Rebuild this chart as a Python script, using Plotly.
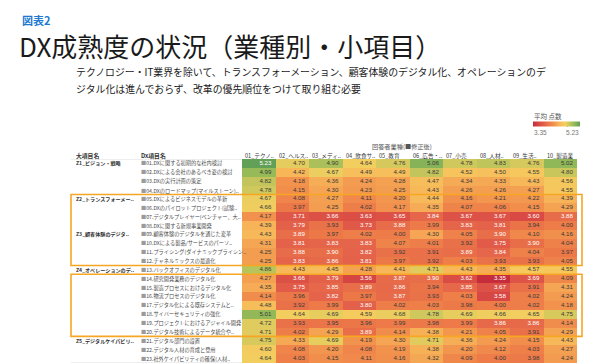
import plotly.graph_objects as go

# ---------------- data ----------------
columns = ["01_テクノ..", "02_ヘルス..", "03_メディ..", "04_飲食サ..", "05_教育",
           "06_広告・..", "07_小売", "08_人材..", "09_生活..", "10_製造業"]

items = [
    "01.DXに関する初期的な社内検討",
    "02.DXによる会社のあるべき姿の検討",
    "03.DXの実行計画の策定",
    "04.DXのロードマップ(マイルストーン)..",
    "05.DXによるビジネスモデルの革新",
    "06.DXのパイロットプロジェクト(試験..",
    "07.デジタルプレイヤー(ベンチャー、大..",
    "08.DXに関する新規事業開発",
    "09.顧客体験のデジタルを通じた変革",
    "10.DXによる製品/サービスのパーソ..",
    "11.プライシング(ダイナミックプライシン..",
    "12.チャネルミックスの最適化",
    "13.バックオフィスのデジタル化",
    "14.研究開発業務のデジタル化",
    "15.製造プロセスにおけるデジタル化",
    "16.物流プロセスのデジタル化",
    "17.デジタル化による既存システムと..",
    "18.サイバーセキュリティの強化",
    "19.プロジェクトにおけるアジャイル開発",
    "20.デジタル技術によるデータ統合や..",
    "21.デジタル部門の設置",
    "22.デジタル人材の育成と登用",
    "23.社外ケイパビリティの確保(人材..",
]

groups = ["Z1_ビジョン・戦略", "Z2_トランスフォーメー..", "Z3_顧客体験のデジタ..",
          "Z4_オペレーションのデ..", "Z5_デジタルケイパビリ.."]
group_first_row = [0, 4, 8, 12, 20]

values = [
    [5.23, 4.70, 4.90, 4.64, 4.76, 5.06, 4.78, 4.83, 4.76, 5.02],
    [4.99, 4.42, 4.67, 4.49, 4.49, 4.82, 4.52, 4.50, 4.55, 4.80],
    [4.82, 4.18, 4.36, 4.24, 4.28, 4.47, 4.34, 4.33, 4.43, 4.56],
    [4.78, 4.15, 4.30, 4.23, 4.25, 4.43, 4.26, 4.26, 4.27, 4.55],
    [4.67, 4.08, 4.27, 4.11, 4.20, 4.44, 4.16, 4.21, 4.22, 4.39],
    [4.66, 3.97, 4.25, 4.02, 4.17, 4.35, 4.07, 4.06, 4.15, 4.29],
    [4.17, 3.71, 3.66, 3.63, 3.65, 3.84, 3.67, 3.67, 3.60, 3.88],
    [4.39, 3.79, 3.93, 3.73, 3.88, 3.99, 3.83, 3.81, 3.94, 4.00],
    [4.43, 3.89, 3.97, 4.02, 4.00, 4.30, 4.05, 3.90, 4.10, 4.16],
    [4.31, 3.81, 3.83, 3.83, 4.07, 4.01, 3.92, 3.75, 3.90, 4.04],
    [4.25, 3.88, 3.90, 3.82, 3.92, 3.91, 3.89, 3.84, 4.04, 3.97],
    [4.25, 3.83, 3.86, 3.81, 3.97, 3.92, 4.03, 3.93, 3.93, 4.05],
    [4.86, 4.43, 4.45, 4.28, 4.41, 4.71, 4.43, 4.35, 4.57, 4.55],
    [4.27, 3.66, 3.79, 3.56, 3.87, 3.90, 3.62, 3.35, 3.69, 4.09],
    [4.35, 3.75, 3.85, 3.89, 3.86, 3.94, 3.85, 3.67, 3.91, 4.31],
    [4.14, 3.96, 3.82, 3.97, 3.87, 3.93, 4.03, 3.58, 4.02, 4.24],
    [4.48, 3.92, 3.99, 3.80, 4.02, 4.03, 3.98, 4.00, 4.02, 4.18],
    [5.01, 4.64, 4.69, 4.59, 4.68, 4.78, 4.69, 4.66, 4.65, 4.75],
    [4.72, 3.93, 3.95, 3.96, 3.99, 3.98, 3.99, 3.86, 3.86, 4.14],
    [4.71, 4.02, 4.29, 3.89, 4.14, 4.38, 4.21, 4.05, 3.91, 4.29],
    [4.75, 4.33, 4.69, 4.19, 4.30, 4.71, 4.36, 4.24, 4.15, 4.43],
    [4.60, 4.08, 4.20, 4.08, 4.19, 4.38, 4.20, 4.12, 4.03, 4.27],
    [4.64, 4.03, 4.15, 4.11, 4.16, 4.32, 4.09, 4.00, 3.98, 4.24],
]

zmin, zmax = 3.35, 5.23
highlight_blocks = [(4, 11), (13, 19)]   # rows (first, last) inside orange boxes

# ---------------- layout geometry (pixels) ----------------
W, H = 600, 364
X0, X1 = 234, 569          # heatmap left/right
Y_TOP, Y_BOT = 151, 355    # heatmap top/bottom
LEG_X0, LEG_X1 = 525, 572  # legend colour bar
FONT = "Noto Sans CJK JP"

def px(x):
    return x / W

def py(y):
    return 1 - y / H

colorscale = [
    [0.00, "#c52d3d"],
    [0.15, "#db4e45"],
    [0.245, "#e4624a"],
    [0.33, "#ec7848"],
    [0.443, "#f2924d"],
    [0.564, "#f7b659"],
    [0.654, "#f5ca5e"],
    [0.69, "#f2ce5f"],
    [0.75, "#d5c95d"],
    [0.82, "#adc15a"],
    [0.88, "#93b958"],
    [1.00, "#62a057"],
]

n_rows, n_cols = len(values), len(columns)
xs = list(range(n_cols))
ys = list(range(n_rows))

fig = go.Figure()
fig.add_trace(go.Heatmap(
    z=values, x=xs, y=ys, zmin=zmin, zmax=zmax, colorscale=colorscale,
    hoverinfo="skip",
    colorbar=dict(orientation="h", x=px((LEG_X0 + LEG_X1) / 2), xanchor="center",
                  y=py(116.5), yanchor="middle", len=LEG_X1 - LEG_X0, lenmode="pixels",
                  thickness=5, thicknessmode="pixels", showticklabels=False,
                  ticks="", outlinewidth=0, xpad=0, ypad=0),
))

tx, ty, tt, tc = [], [], [], []
for i, row in enumerate(values):
    for j, v in enumerate(row):
        tx.append(j + 0.38)
        ty.append(i)
        tt.append(f"{v:.2f}")
        tc.append("#ffffff" if (v < 3.905 or v > 5.15) else "#3a3a3a")
fig.add_trace(go.Scatter(
    x=tx, y=ty, text=tt, mode="text", textposition="middle left",
    textfont=dict(family="Liberation Sans", size=6.2, color=tc),
    hoverinfo="skip", showlegend=False,
))

ann = []
ann.append(dict(text="<b>図表2</b>", x=px(12), y=py(12), xref="paper", yref="paper",
                xanchor="left", yanchor="middle", showarrow=False,
                font=dict(family=FONT, size=11, color="#2179cf")))
ann.append(dict(text="DX成熟度の状況（業種別・小項目）", x=px(9), y=py(38), xref="paper", yref="paper",
                xanchor="left", yanchor="middle", showarrow=False,
                font=dict(family=FONT, size=26, color="#1a1a1a")))
ann.append(dict(text="テクノロジー・IT業界を除いて、トランスフォーメーション、顧客体験のデジタル化、オペレーションのデ",
                x=px(66), y=py(64), xref="paper", yref="paper", xanchor="left", yanchor="middle",
                showarrow=False, font=dict(family=FONT, size=9.9, color="#1a1a1a")))
ann.append(dict(text="ジタル化は進んでおらず、改革の優先順位をつけて取り組む必要",
                x=px(66), y=py(81), xref="paper", yref="paper", xanchor="left", yanchor="middle",
                showarrow=False, font=dict(family=FONT, size=9.9, color="#1a1a1a")))
# legend labels
ann.append(dict(text="平均 点数", x=px(LEG_X0 - 1), y=py(108), xref="paper", yref="paper",
                xanchor="left", yanchor="middle", showarrow=False,
                font=dict(family=FONT, size=6.5, color="#555555")))
ann.append(dict(text="3.35", x=px(LEG_X0 - 1), y=py(124), xref="paper", yref="paper",
                xanchor="left", yanchor="middle", showarrow=False,
                font=dict(family="Liberation Sans", size=6.5, color="#777777")))
ann.append(dict(text="5.23", x=px(LEG_X1 + 1), y=py(124), xref="paper", yref="paper",
                xanchor="right", yanchor="middle", showarrow=False,
                font=dict(family="Liberation Sans", size=6.5, color="#777777")))
# header
ann.append(dict(text="回答者業種(■修正後)", x=px(394), y=py(138.5), xref="paper", yref="paper",
                xanchor="center", yanchor="middle", showarrow=False,
                font=dict(family=FONT, size=6.2, color="#555555")))
for j, c in enumerate(columns):
    ann.append(dict(text=c, x=j - 0.5, y=py(147.5), xref="x", yref="paper", xshift=1,
                    xanchor="left", yanchor="middle", showarrow=False,
                    font=dict(family=FONT, size=5.6, color="#333333")))
ann.append(dict(text="<b>大項目名</b>", x=px(66), y=py(147.5), xref="paper", yref="paper",
                xanchor="left", yanchor="middle", showarrow=False,
                font=dict(family=FONT, size=5.8, color="#333333")))
ann.append(dict(text="<b>Dx項目名</b>", x=px(131), y=py(147.5), xref="paper", yref="paper",
                xanchor="left", yanchor="middle", showarrow=False,
                font=dict(family=FONT, size=5.8, color="#333333")))
for g, r in zip(groups, group_first_row):
    ann.append(dict(text=f"<b>{g}</b>", x=px(66), y=r, xref="paper", yref="y",
                    xanchor="left", yanchor="middle", showarrow=False,
                    font=dict(family=FONT, size=5.1, color="#333333")))
for i, it in enumerate(items):
    ann.append(dict(text=f"<span style='color:#9a9a9a'>■</span>{it}", x=px(131), y=i,
                    xref="paper", yref="y", xanchor="left", yanchor="middle", showarrow=False,
                    font=dict(family=FONT, size=5.2, color="#4a4a4a")))

shapes = []
# light table lines
for yy in (-0.5, n_rows - 0.5):
    shapes.append(dict(type="line", xref="paper", yref="y", x0=px(63), x1=px(X0), y0=yy, y1=yy,
                       line=dict(color="#dddddd", width=1)))
for a, b in highlight_blocks:
    shapes.append(dict(type="rect", xref="paper", yref="y", x0=px(63), x1=px(X1 + 5),
                       y0=a - 0.5, y1=b + 0.5, line=dict(color="#f7a623", width=1.6),
                       fillcolor="rgba(0,0,0,0)"))
# small marker on the legend bar
mark_x = LEG_X0 + (LEG_X1 - LEG_X0) * 0.73
shapes.append(dict(type="line", xref="paper", yref="paper", x0=px(mark_x), x1=px(mark_x),
                   y0=py(118.5), y1=py(117), line=dict(color="#555555", width=1)))

fig.update_layout(
    width=W, height=H, margin=dict(l=0, r=0, t=0, b=0),
    paper_bgcolor="white", plot_bgcolor="white",
    xaxis=dict(domain=[px(X0), px(X1)], range=[-0.5, n_cols - 0.5], visible=False, fixedrange=True),
    yaxis=dict(domain=[py(Y_BOT), py(Y_TOP)], range=[n_rows - 0.5, -0.5], visible=False, fixedrange=True),
    annotations=ann, shapes=shapes, showlegend=False,
)

fig.write_html("out.html")
